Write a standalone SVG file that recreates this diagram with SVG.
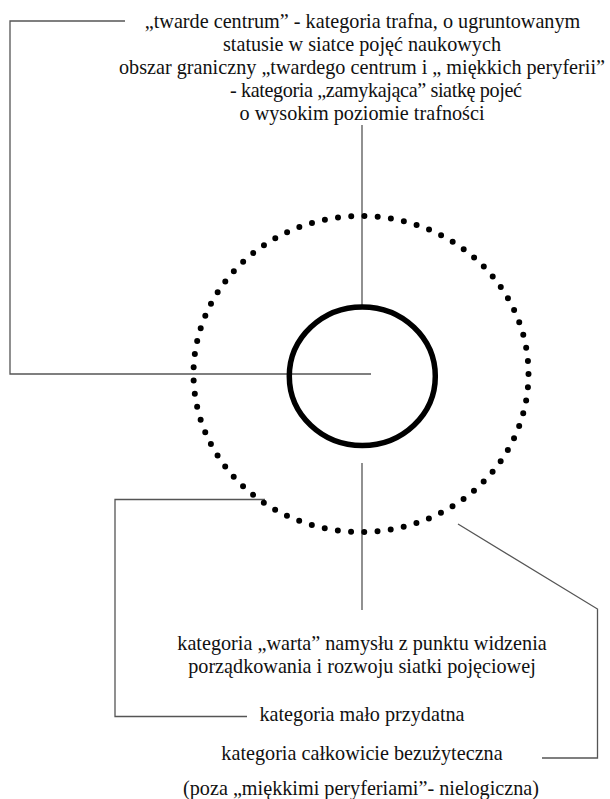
<svg xmlns="http://www.w3.org/2000/svg" width="610" height="799" viewBox="0 0 610 799">
<style>
text{font-family:'Liberation Serif','Times New Roman',serif;font-size:20.2px;fill:#111;text-anchor:middle}
.c{fill:none;stroke:#555;stroke-width:1.3}
</style>
<rect width="610" height="799" fill="#fff"/>
<g id="connectors">
<polyline class="c" points="125,21 10,21 10,374 371,374"/>
<line class="c" x1="362" y1="125" x2="362" y2="306"/>
<line class="c" x1="362" y1="463" x2="362" y2="610"/>
<polyline class="c" points="265,499.5 115,499.5 115,716.5 247,716.5"/>
<polyline class="c" points="458,524 597.5,609 597.5,758 542,758"/>
</g>
<g id="outer-zone">
<ellipse cx="361" cy="374" rx="167.5" ry="158" fill="none" stroke="#000" stroke-width="6" stroke-linecap="round" stroke-dasharray="0 13.28"/>
</g>
<g id="hard-centre">
<ellipse cx="362.3" cy="376.3" rx="73" ry="69.3" fill="none" stroke="#000" stroke-width="5.5"/>
</g>
<g id="label-top">
<text x="362.5" y="28">„twarde centrum” - kategoria trafna, o ugruntowanym</text>
<text x="362" y="51">statusie w siatce pojęć naukowych</text>
<text x="362" y="74">obszar graniczny „twardego centrum i „ miękkich peryferii”</text>
<text x="376" y="97" textLength="292" lengthAdjust="spacing">- kategoria „zamykająca” siatkę pojeć</text>
<text x="362" y="120">o wysokim poziomie trafności</text>
</g>
<g id="label-warta">
<text x="362" y="650">kategoria „warta” namysłu z punktu widzenia</text>
<text x="362" y="673">porządkowania i rozwoju siatki pojęciowej</text>
</g>
<g id="label-malo">
<text x="362" y="721">kategoria mało przydatna</text>
</g>
<g id="label-bezuzyteczna">
<text x="362" y="760">kategoria całkowicie bezużyteczna</text>
<text x="361" y="795">(poza „miękkimi peryferiami”- nielogiczna)</text>
</g>
</svg>
